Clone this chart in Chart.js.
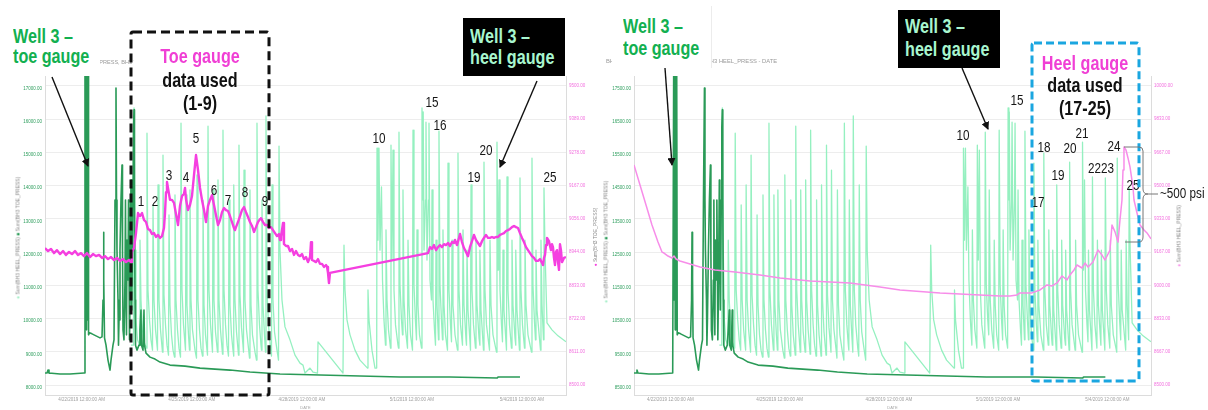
<!DOCTYPE html>
<html>
<head>
<meta charset="utf-8">
<title>BH3 toe and heel gauge pressures</title>
<script src="https://cdn.jsdelivr.net/npm/chart.js@4.4.1/dist/chart.umd.min.js"></script>
<style>
  html, body { margin: 0; padding: 0; background: #fff; }
  body { width: 1208px; height: 410px; position: relative; overflow: hidden;
         font-family: "Liberation Sans", Arial, sans-serif; }
  canvas.panel { position: absolute; top: 50px; }
  #toeView { left: 0; }
  #heelView { left: 598px; }
  .ttl { position: absolute; color: #9a9a9a; line-height: 1; white-space: nowrap; }
  .vt { position: absolute; font-size: 5px; line-height: 1; color: #8a8a8a; white-space: nowrap;
        transform: translate(-50%, -50%) rotate(-90deg); }
  .cover { position: absolute; background: #fff; }
  .box { position: absolute; background: #000; }
  .big { position: absolute; font-weight: bold; font-size: 21px; white-space: nowrap;
         transform: scaleX(0.77); transform-origin: 0 0; }
  .big.c { text-align: center; transform: translateX(-50%) scaleX(0.77); transform-origin: 50% 0; color: #111; }
  .num { position: absolute; font-size: 15px; line-height: 15px; color: #161616; white-space: nowrap;
         transform: translateX(-50%) scaleX(0.78); transform-origin: 50% 0; }
  .psi { position: absolute; font-size: 15px; line-height: 15px; color: #161616; white-space: nowrap;
         transform: scaleX(0.78); transform-origin: 0 0; }
  svg { position: absolute; left: 0; top: 0; }
</style>
</head>
<body>
<canvas id="toeView" class="panel" width="610" height="360"></canvas>
<canvas id="heelView" class="panel" width="610" height="360"></canvas>

<!-- panel titles -->
<div class="ttl" style="left:69px;top:60px;font-size:5.6px">BH3 HEEL_PRESS, BH3 TOE_PRESS - DATE</div>
<div class="ttl" style="left:606px;top:59px;font-size:5.8px">BH3</div>
<div class="ttl" style="left:706px;top:59px;font-size:5.8px">BH3 HEEL_PRESS - DATE</div>

<!-- rotated axis titles -->
<div class="vt" style="left:18px;top:238px"><span style="color:#9bedc2">●</span> Sum(BH3 HEEL_PRESS) <span style="color:#2a9a57">■</span> Sum(BH3 TOE_PRESS)</div>
<div class="vt" style="left:595px;top:237px"><span style="color:#f53fe0">●</span> Sum(BH3 TOE_PRESS)</div>
<div class="vt" style="left:606px;top:242px"><span style="color:#9bedc2">●</span> Sum(BH3 HEEL_PRESS) <span style="color:#2a9a57">■</span> Sum(BH3 TOE_PRESS)</div>
<div class="vt" style="left:1179px;top:236px"><span style="color:#f78de9">●</span> Sum(BH3 HEEL_PRESS)</div>

<!-- callouts, toe view -->
<div class="cover" style="left:6px;top:16px;width:94px;height:56px"></div>
<div class="big" style="left:12.7px;top:25.7px;line-height:20px;color:#12b050">Well 3 –<br>toe gauge</div>
<div class="cover" style="left:134px;top:44px;width:132px;height:24px"></div>
<div class="big c" style="left:200px;top:44px;line-height:23.5px"><span style="color:#f03fd5">Toe gauge</span><br>data used<br>(1-9)</div>
<div class="box" style="left:463px;top:18px;width:102px;height:58px"></div>
<div class="big" style="left:470px;top:25.2px;line-height:21px;color:#a8f6cf">Well 3 –<br>heel gauge</div>

<!-- callouts, heel view -->
<div class="cover" style="left:612px;top:6px;width:99px;height:62px;border-right:1px solid #ececec"></div>
<div class="big" style="left:623px;top:14.5px;line-height:22.5px;color:#12b050">Well 3 –<br>toe gauge</div>
<div class="box" style="left:898px;top:10px;width:102px;height:58px"></div>
<div class="big" style="left:905px;top:14.2px;line-height:23px;color:#a8f6cf">Well 3 –<br>heel gauge</div>
<div class="big c" style="left:1085px;top:51.5px;line-height:22.5px"><span style="color:#f03fd5">Heel gauge</span><br>data used<br>(17-25)</div>

<!-- stage numbers -->
<div class="num" style="left:140.5px;top:193.3px">1</div>
<div class="num" style="left:155px;top:193.3px">2</div>
<div class="num" style="left:169px;top:167.3px">3</div>
<div class="num" style="left:185.5px;top:169.3px">4</div>
<div class="num" style="left:196px;top:130.3px">5</div>
<div class="num" style="left:213.5px;top:182.3px">6</div>
<div class="num" style="left:228px;top:192.3px">7</div>
<div class="num" style="left:244.5px;top:184.3px">8</div>
<div class="num" style="left:265px;top:193.3px">9</div>
<div class="num" style="left:378.5px;top:130.3px">10</div>
<div class="num" style="left:432px;top:94.3px">15</div>
<div class="num" style="left:439.5px;top:117.3px">16</div>
<div class="num" style="left:473.5px;top:169.3px">19</div>
<div class="num" style="left:486px;top:142.3px">20</div>
<div class="num" style="left:549.5px;top:169.3px">25</div>

<div class="num" style="left:962.5px;top:127.3px">10</div>
<div class="num" style="left:1016.5px;top:92.3px">15</div>
<div class="num" style="left:1038px;top:194.3px">17</div>
<div class="num" style="left:1043.5px;top:139.3px">18</div>
<div class="num" style="left:1058px;top:167.3px">19</div>
<div class="num" style="left:1070px;top:140.3px">20</div>
<div class="num" style="left:1082px;top:125.3px">21</div>
<div class="num" style="left:1100.5px;top:160.3px">2223</div>
<div class="num" style="left:1114px;top:138.3px">24</div>
<div class="num" style="left:1133px;top:177.3px">25</div>
<div class="psi" style="left:1160px;top:185.3px">~500 psi</div>

<svg width="1208" height="410" viewBox="0 0 1208 410">
  <defs>
    <marker id="head" markerWidth="8" markerHeight="8" refX="7" refY="4" orient="auto" markerUnits="userSpaceOnUse">
      <path d="M0,0 L8,4 L0,8 z" fill="#111"/>
    </marker>
  </defs>
  <rect x="131" y="32" width="138" height="363" rx="2" fill="none" stroke="#111" stroke-width="3" stroke-dasharray="9 5"/>
  <rect x="1032" y="43" width="107" height="338" rx="2" fill="none" stroke="#1aa6e0" stroke-width="3" stroke-dasharray="8 4"/>
  <line x1="52" y1="77" x2="88" y2="166" stroke="#111" stroke-width="1.4" marker-end="url(#head)"/>
  <line x1="537" y1="81" x2="500" y2="167" stroke="#111" stroke-width="1.4" marker-end="url(#head)"/>
  <line x1="665" y1="68" x2="672" y2="165" stroke="#111" stroke-width="1.4" marker-end="url(#head)"/>
  <line x1="962" y1="68" x2="988" y2="129" stroke="#111" stroke-width="1.4" marker-end="url(#head)"/>
  <path d="M1124 147 H1139 Q1143 147 1143 151 V189 Q1143 194 1148 194 Q1143 194 1143 199 V237 Q1143 242 1139 242 H1125" fill="none" stroke="#777" stroke-width="1"/>
  <path d="M1148 194 H1158" fill="none" stroke="#777" stroke-width="1"/>
</svg>

<script>
// ---- time axis: days counted from 4/21/2019 12:00 AM ----
const DATE_TICK_DAYS = [1, 4, 7, 10, 13];
const DATE_TICK_LABELS = ['4/22/2019 12:00:00 AM', '4/25/2019 12:00:00 AM', '4/28/2019 12:00:00 AM',
                          '5/1/2019 12:00:00 AM', '5/4/2019 12:00:00 AM'];

// ---- pressure axes ----
const PSI_TICKS_TOE_VIEW = [8000, 9000, 10000, 11000, 12000, 13000, 14000, 15000, 16000, 17000];
const PSI_TICKS_HEEL_VIEW = [8500, 9500, 10500, 11500, 12500, 13500, 14500, 15500, 16500, 17500];
const TOE_GAUGE_TICKS = [8500, 8611.1, 8722.2, 8833.3, 8944.4, 9055.6, 9166.7, 9277.8, 9388.9, 9500];
const HEEL_GAUGE_TICKS = [8500, 8666.7, 8833.3, 9000, 9166.7, 9333.3, 9500, 9666.7, 9833.3, 10000];

// ---- BH3 heel gauge (frac pumping spikes) ----
const heelDays = [
  2.344,2.412,2.426,2.453,2.480,2.521,2.576,2.589,2.616,2.657,
  2.698,2.766,2.780,2.807,2.848,2.889,2.930,2.944,2.971,3.012,
  3.066,3.080,3.107,3.148,3.202,3.216,3.243,3.284,3.325,3.366,
  3.380,3.407,3.448,3.489,3.530,3.543,3.570,3.611,3.652,3.693,
  3.707,3.734,3.775,3.829,3.843,3.870,3.911,3.938,3.952,3.979,
  4.020,4.088,4.129,4.143,4.170,4.211,4.252,4.293,4.306,4.334,
  4.374,4.429,4.443,4.470,4.511,4.552,4.565,4.579,4.606,4.647,
  4.701,4.715,4.742,4.783,4.838,4.851,4.879,4.920,4.960,5.001,
  5.015,5.042,5.083,5.124,5.138,5.151,5.178,5.219,5.274,5.287,
  5.315,5.356,5.396,5.410,5.424,5.451,5.492,5.546,5.574,5.587,
  5.615,5.655,5.724,5.764,5.778,5.805,5.846,5.887,5.901,5.914,
  5.942,5.982,6.010,6.023,6.051,6.091,6.146,6.173,6.187,6.214,
  6.255,6.323,6.364,6.378,6.405,6.459,6.541,6.677,6.814,6.950,
  7.032,7.086,7.223,7.304,7.427,7.441,8.122,8.149,8.177,8.231,
  8.313,8.449,8.585,8.790,8.803,8.831,8.912,8.994,9.040,9.049,
  9.076,9.103,9.130,9.171,9.199,9.239,9.280,9.294,9.321,9.362,
  9.417,9.430,9.457,9.485,9.512,9.553,9.621,9.635,9.648,9.676,
  9.716,9.744,9.757,9.785,9.826,9.880,9.894,9.921,9.962,10.016,
  10.030,10.057,10.098,10.125,10.139,10.166,10.207,10.262,10.275,10.297,
  10.308,10.330,10.370,10.384,10.411,10.452,10.466,10.493,10.534,10.548,
  10.575,10.616,10.643,10.657,10.684,10.725,10.738,10.766,10.806,10.834,
  10.847,10.875,10.916,10.970,10.984,11.011,11.052,11.079,11.093,11.120,
  11.175,11.243,11.256,11.284,11.325,11.379,11.393,11.420,11.475,11.488,
  11.502,11.529,11.597,11.611,11.638,11.679,11.733,11.747,11.774,11.829,
  11.851,11.856,11.883,11.951,11.965,11.992,12.033,12.115,12.129,12.156,
  12.210,12.306,12.319,12.347,12.360,12.374,12.401,12.442,12.469,12.483,
  12.510,12.578,12.592,12.619,12.660,12.714,12.728,12.755,12.810,12.824,
  12.837,12.864,12.932,12.946,12.973,13.014,13.069,13.082,13.110,13.164,
  13.259,13.273,13.300,13.341,13.368,13.382,13.409,13.505,13.518,13.546,
  13.586,13.600,13.628,13.682,13.818,13.982,14.200
];
// heel gauge, psi, as plotted in the toe-gauge view
const heelPsiToeView = [
  9200,9200,16340,12060,9960,9360,9200,12360,10560,9660,
  9300,9110,15580,10860,9960,9360,9050,13420,10560,9660,
  9050,14020,10560,9660,8990,14920,10710,9810,9200,8900,
  13120,10410,9510,9050,8840,13720,10560,9660,9110,8840,
  15880,10860,9810,9050,13720,10410,9510,9050,13870,10560,
  9660,9050,8810,14320,10560,9660,9110,8870,13570,10410,
  9510,8900,15790,10860,9810,9200,8990,13870,10560,9600,
  8990,14170,10560,9660,8930,15670,10860,9810,9200,8870,
  13570,10410,9510,9050,8870,14020,10560,9600,8900,15220,
  10710,9720,9200,8990,14470,10560,9660,9110,8810,13870,
  10410,9510,8990,8750,15880,10860,9810,9200,9050,13570,
  10410,9510,8990,16100,10860,9810,9110,8870,14020,10560,
  9600,9050,8750,15190,12060,10560,9750,9360,8900,8660,
  8600,8360,8510,8390,8360,9300,8360,12210,10860,9960,
  9510,9050,8750,8510,10860,9960,9050,8510,8510,15130,
  12360,15130,12060,13960,11160,9960,9200,12670,10560,9660,
  9110,15220,11760,15070,10860,9810,9200,9110,15610,11010,
  9960,9510,13870,10560,9660,9110,12360,10410,9510,9050,
  15670,11010,9900,9360,12670,10410,9510,9110,16340,13570,
  16220,12060,13570,15910,11760,13570,15880,11160,10560,13870,
  10560,9660,9200,12360,10410,9360,15640,11010,9960,9360,
  12670,10410,9510,9050,14680,10860,9810,9300,12360,10410,
  9510,9050,14980,10860,9810,9200,12670,10410,9360,9200,
  12060,10260,9050,14020,10860,9810,9110,12360,10410,9420,
  9200,12060,10260,9050,14710,10860,9810,9050,12360,10410,
  9510,8990,15310,11460,12670,14170,10860,9810,9300,12060,
  10260,9050,14260,10860,9810,9110,12360,10410,9420,9200,
  12060,10260,9050,14230,10860,9810,9110,12360,10410,9510,
  8990,14830,11010,9900,9360,12060,10260,9050,12360,10410,
  9360,13930,12060,9870,9660,9480,9300
];
// heel gauge, psi, as plotted in the heel-gauge view
const heelPsiHeelView = [
  9700,9700,16840,12560,10460,9860,9700,12860,11060,10160,
  9800,9610,16080,11360,10460,9860,9550,13920,11060,10160,
  9550,14520,11060,10160,9490,15420,11210,10310,9700,9400,
  13620,10910,10010,9550,9340,14220,11060,10160,9610,9340,
  16380,11360,10310,9550,14220,10910,10010,9550,14370,11060,
  10160,9550,9310,14820,11060,10160,9610,9370,14070,10910,
  10010,9400,16290,11360,10310,9700,9490,14370,11060,10100,
  9490,14670,11060,10160,9430,16170,11360,10310,9700,9370,
  14070,10910,10010,9550,9370,14520,11060,10100,9400,15720,
  11210,10220,9700,9490,14970,11060,10160,9610,9310,14370,
  10910,10010,9490,9250,16380,11360,10310,9700,9550,14070,
  10910,10010,9490,16600,11360,10310,9610,9370,14520,11060,
  10100,9550,9250,15690,12560,11060,10250,9860,9400,9160,
  9100,8860,9010,8890,8860,9800,8860,12710,11360,10460,
  10010,9550,9250,9010,11360,10460,9550,9010,9010,15630,
  12860,15630,12560,14460,11660,10460,9700,13170,11060,10160,
  9610,15720,12260,15570,11360,10310,9700,9610,16110,11510,
  10460,10010,14370,11060,10160,9610,12860,10910,10010,9550,
  16170,11510,10400,9860,13170,10910,10010,9610,16840,14070,
  16720,12560,14070,16410,12260,14070,16380,11660,11060,14370,
  11060,10160,9700,12860,10910,9860,16140,11510,10460,9860,
  13170,10910,10010,9550,15180,11360,10310,9800,12860,10910,
  10010,9550,15480,11360,10310,9700,13170,10910,9860,9700,
  12560,10760,9550,14520,11360,10310,9610,12860,10910,9920,
  9700,12560,10760,9550,15210,11360,10310,9550,12860,10910,
  10010,9490,15810,11960,13170,14670,11360,10310,9800,12560,
  10760,9550,14760,11360,10310,9610,12860,10910,9920,9700,
  12560,10760,9550,14730,11360,10310,9610,12860,10910,10010,
  9490,15330,11510,10400,9860,12560,10760,9550,12860,10910,
  9860,14430,12560,10370,10160,9980,9800
];

// ---- BH3 toe gauge ----
const toeDays = [
  0.000,0.055,0.082,0.109,0.409,0.681,1.063,1.090,1.105,1.118,
  1.132,1.146,1.160,1.173,1.187,1.213,1.281,1.390,1.499,1.554,
  1.581,1.594,1.608,1.622,1.663,1.717,1.772,1.799,1.853,1.881,
  1.908,1.935,1.949,1.962,1.990,2.003,2.017,2.044,2.071,2.099,
  2.112,2.126,2.153,2.180,2.194,2.208,2.221,2.235,2.262,2.276,
  2.289,2.303,2.317,2.344,2.358,2.371,2.398,2.412,2.426,2.439,
  2.453,2.467,2.507,2.562,2.589,2.616,2.630,2.671,2.698,2.712,
  2.753,2.862,2.998,3.134,3.407,3.816,4.225,5.042,5.587,6.405,
  7.495,8.585,9.676,11.038,12.319,12.347,12.674,12.946
];
const toePsiToeView = [
  8360,8360,8450,8360,8330,8330,8360,17500,10560,17500,
  9660,17500,9960,17500,9510,9570,9540,9480,9420,9450,
  10560,12600,11160,9420,9200,8750,8450,8750,9200,9360,
  13570,16940,13570,12060,10560,9200,9960,12060,13570,14620,
  12060,9660,9360,11160,13570,10560,9510,12360,11160,13570,
  11760,9360,10560,14170,12060,10260,13570,15760,16280,13570,
  10560,9200,9050,9200,9660,10260,9200,9050,10260,9200,
  8960,8840,8780,8690,8600,8570,8510,8450,8390,8330,
  8300,8270,8240,8240,8210,8240,8240,8240
];
const toePsiHeelView = [
  8860,8860,8950,8860,8830,8830,8860,18000,11060,18000,
  10160,18000,10460,18000,10010,10070,10040,9980,9920,9950,
  11060,13100,11660,9920,9700,9250,8950,9250,9700,9860,
  14070,17440,14070,12560,11060,9700,10460,12560,14070,15120,
  12560,10160,9860,11660,14070,11060,10010,12860,11660,14070,
  12260,9860,11060,14670,12560,10760,14070,16260,16780,14070,
  11060,9700,9550,9700,10160,10760,9700,9550,10760,9700,
  9460,9340,9280,9190,9100,9070,9010,8950,8890,8830,
  8800,8770,8740,8740,8710,8740,8740,8740
];

// ---- toe gauge pressure used for stages 1-9 (right axis, toe view) ----
const toeGaugeDays = [
  0.000,0.082,0.164,0.245,0.327,0.409,0.491,0.572,0.654,0.736,
  0.818,0.899,0.981,1.063,1.145,1.226,1.308,1.390,1.472,1.554,
  1.635,1.717,1.799,1.881,1.962,2.044,2.126,2.208,2.289,2.344,
  2.371,2.426,2.480,2.535,2.589,2.644,2.698,2.753,2.807,2.862,
  2.916,2.971,3.025,3.080,3.134,3.189,3.243,3.271,3.298,3.325,
  3.352,3.407,3.461,3.516,3.570,3.625,3.679,3.734,3.788,3.816,
  3.843,3.897,3.952,4.006,4.061,4.116,4.170,4.225,4.279,4.334,
  4.388,4.443,4.497,4.552,4.606,4.661,4.715,4.770,4.824,4.879,
  4.933,4.988,5.042,5.097,5.151,5.178,5.206,5.260,5.315,5.369,
  5.424,5.478,5.533,5.587,5.642,5.696,5.751,5.805,5.860,5.887,
  5.942,5.996,6.051,6.105,6.160,6.214,6.269,6.323,6.378,6.405,
  6.432,6.459,6.487,6.514,6.568,6.623,6.677,6.732,6.786,6.841,
  6.896,6.950,7.005,7.059,7.114,7.168,7.223,7.250,7.277,7.332,
  7.386,7.441,7.495,7.550,7.604,7.659,7.686,7.713,7.740,7.768,
  10.439,10.493,10.548,10.602,10.657,10.711,10.766,10.820,10.875,10.929,
  10.984,11.038,11.093,11.147,11.175,11.229,11.284,11.311,11.365,11.420,
  11.475,11.529,11.583,11.638,11.692,11.747,11.801,11.856,11.910,11.965,
  12.019,12.074,12.128,12.183,12.237,12.292,12.347,12.401,12.456,12.510,
  12.565,12.619,12.674,12.728,12.783,12.837,12.892,12.946,13.001,13.055,
  13.110,13.164,13.219,13.273,13.328,13.382,13.437,13.491,13.546,13.573,
  13.600,13.628,13.655,13.682,13.736,13.791,13.818,13.845,13.873,13.900,
  13.927,13.955,13.982,14.009,14.036,14.063,14.091,14.145,14.200
];
const toeGaugePsi = [
  8958,8948,8955,8941,8951,8938,8948,8935,8945,8938,
  8948,8935,8941,8931,8941,8928,8938,8931,8935,8925,
  8931,8921,8928,8918,8925,8915,8921,8911,8918,8911,
  8945,8958,9008,9075,9065,9075,9052,9045,9022,9018,
  9005,9008,8995,9002,8992,8998,9025,9075,9145,9179,
  9159,9119,9119,9109,9072,9035,9099,9132,9139,9159,
  9122,9085,9102,9132,9202,9269,9219,9159,9119,9085,
  9045,9099,9119,9135,9102,9068,9035,9052,9078,9092,
  9085,9082,9065,9045,9025,9018,9028,9045,9065,9085,
  9095,9078,9062,9045,9032,9012,9028,9045,9055,9058,
  9045,9035,9035,9025,9028,9018,9008,8998,9005,8985,
  8998,9018,9042,8971,8965,8965,8948,8955,8935,8948,
  8935,8931,8938,8921,8928,8911,8928,8978,8918,8915,
  8911,8921,8905,8905,8895,8901,8895,8875,8841,8875,
  8941,8961,8955,8968,8951,8961,8968,8961,8971,8968,
  8975,8965,8978,8975,8985,8968,8992,9005,8978,8958,
  8945,8931,8961,8981,9002,8985,8975,8965,8981,8992,
  9002,8992,8992,8995,8992,8995,8995,9002,9005,9008,
  9015,9018,9022,9028,9032,9028,9025,9008,8992,8978,
  8961,8951,8941,8931,8925,8915,8915,8921,8908,8901,
  8925,8935,8968,8992,8981,8951,8971,8961,8925,8901,
  8945,8951,8911,8885,8971,8951,8911,8925,8928
];

// ---- heel gauge pressure used for stages 17-25 (right axis, heel view) ----
const heelGaugeDays = [
  0.000,0.165,0.330,0.494,0.659,0.769,0.824,0.934,1.044,1.099,
  1.154,1.263,1.538,1.813,2.225,2.774,3.461,4.010,4.834,5.933,
  6.757,7.306,8.405,9.503,10.053,10.327,10.519,10.602,10.931,11.151,
  11.343,11.481,11.618,11.755,11.893,11.975,12.085,12.167,12.305,12.387,
  12.470,12.607,12.744,12.854,12.937,13.074,13.129,13.211,13.294,13.348,
  13.403,13.431,13.458,13.513,13.568,13.623,13.705,13.733,13.815,13.898,
  14.008,14.090,14.200
];
const heelGaugePsi = [
  9604,9503,9403,9303,9217,9167,9162,9147,9137,9147,
  9132,9122,9107,9092,9077,9067,9052,9037,9022,9012,
  8992,8977,8962,8952,8947,8947,8952,8962,8962,8977,
  9002,8997,9012,9047,9027,9052,9077,9102,9087,9112,
  9092,9117,9177,9152,9127,9177,9303,9268,9217,9328,
  9428,9579,9694,9679,9639,9594,9493,9428,9363,9303,
  9278,9263,9233
];

// ---- colours ----
const HEEL_GREEN = '#95f0c0';
const TOE_GREEN = '#2a9a57';
const TOE_GAUGE_PINK = '#f53fe0';
const HEEL_GAUGE_PINK = '#f78de9';
const GRID = '#ededed';
const EDGE = '#dcdcdc';

Chart.defaults.font.family = '"Liberation Sans", Arial, sans-serif';

const toPoints = (xs, ys) => xs.map((x, i) => ({ x: x, y: ys[i] }));
const fixTicks = list => scale => { scale.ticks = list.map(v => ({ value: v })); };
const setWidth = w => scale => { scale.width = w; };
const setHeight = h => scale => { scale.height = h; };
const twoDecimals = v => Number(v).toFixed(2);
const roundedTwoDecimals = v => Math.round(v).toFixed(2);

function dateAxis() {
  return {
    type: 'linear', min: 0, max: 14.2,
    afterBuildTicks: fixTicks(DATE_TICK_DAYS),
    afterFit: setHeight(15),
    grid: { display: false, drawTicks: false },
    border: { display: true, color: EDGE },
    ticks: { autoSkip: false, maxRotation: 0, minRotation: 0, padding: 2, color: '#a0a0a0',
             font: { size: 4.5 }, callback: (v, i) => DATE_TICK_LABELS[i] },
    title: { display: true, text: 'DATE', color: '#a8a8a8', font: { size: 4 }, padding: 0 }
  };
}

function psiAxis(min, max, ticks, color, offset, weight, width, main) {
  return {
    type: 'linear', position: 'left', weight: weight, min: min, max: max,
    afterBuildTicks: fixTicks(ticks),
    afterFit: setWidth(width),
    grid: { display: main, color: GRID, drawTicks: false },
    border: { display: main, color: EDGE },
    ticks: { autoSkip: false, padding: 3, labelOffset: offset, color: color,
             font: { size: 4.5 }, callback: twoDecimals }
  };
}

function gaugeAxis(min, max, ticks, width) {
  return {
    type: 'linear', position: 'right', min: min, max: max,
    afterBuildTicks: fixTicks(ticks),
    afterFit: setWidth(width),
    grid: { display: false, drawTicks: false },
    border: { display: true, color: EDGE },
    ticks: { autoSkip: false, padding: 3, color: '#f26ede', font: { size: 4.5 },
             callback: roundedTwoDecimals }
  };
}

function line(label, data, axis, color, width, order) {
  return { label: label, data: data, yAxisID: axis, borderColor: color, borderWidth: width,
           pointRadius: 0, tension: 0, fill: false, borderJoinStyle: 'round', order: order };
}

function panel(id, cfg) {
  return new Chart(document.getElementById(id), {
    type: 'line',
    data: { datasets: [
      line('Sum(BH3 HEEL_PRESS)', toPoints(heelDays, cfg.heel), 'yHeel', HEEL_GREEN, 1.3, 3),
      line('Sum(BH3 TOE_PRESS)', toPoints(toeDays, cfg.toe), 'yToe', TOE_GREEN, 1.6, 2),
      line(cfg.gaugeLabel, toPoints(cfg.gaugeDays, cfg.gauge), 'yGauge', cfg.gaugeColor, cfg.gaugeWidth, 1)
    ] },
    options: {
      responsive: false, animation: false, events: [],
      layout: { padding: { top: 26, left: 0, right: 0, bottom: 0 } },
      plugins: { legend: { display: false }, tooltip: { enabled: false }, title: { display: false } },
      scales: {
        x: dateAxis(),
        yToe: psiAxis(cfg.range[0], cfg.range[1], cfg.ticks, '#2e9e5e', 2.5, 1, cfg.leftWidth, true),
        yHeel: psiAxis(cfg.range[0], cfg.range[1], cfg.ticks, '#9fefc4', -4.5, 0, 0, false),
        yGauge: gaugeAxis(cfg.gaugeRange[0], cfg.gaugeRange[1], cfg.gaugeTicks, cfg.rightWidth)
      }
    }
  });
}

panel('toeView', {
  heel: heelPsiToeView, toe: toePsiToeView,
  range: [7700, 17300], ticks: PSI_TICKS_TOE_VIEW, leftWidth: 45,
  gaugeLabel: 'Sum(BH3 TOE_PRESS)', gaugeDays: toeGaugeDays, gauge: toeGaugePsi,
  gaugeColor: TOE_GAUGE_PINK, gaugeWidth: 2.4,
  gaugeRange: [8466.7, 9533.3], gaugeTicks: TOE_GAUGE_TICKS, rightWidth: 44
});

panel('heelView', {
  heel: heelPsiHeelView, toe: toePsiHeelView,
  range: [8200, 17800], ticks: PSI_TICKS_HEEL_VIEW, leftWidth: 36,
  gaugeLabel: 'Sum(BH3 HEEL_PRESS)', gaugeDays: heelGaugeDays, gauge: heelGaugePsi,
  gaugeColor: HEEL_GAUGE_PINK, gaugeWidth: 1.5,
  gaugeRange: [8450, 10050], gaugeTicks: HEEL_GAUGE_TICKS, rightWidth: 57
});
</script>
</body>
</html>
